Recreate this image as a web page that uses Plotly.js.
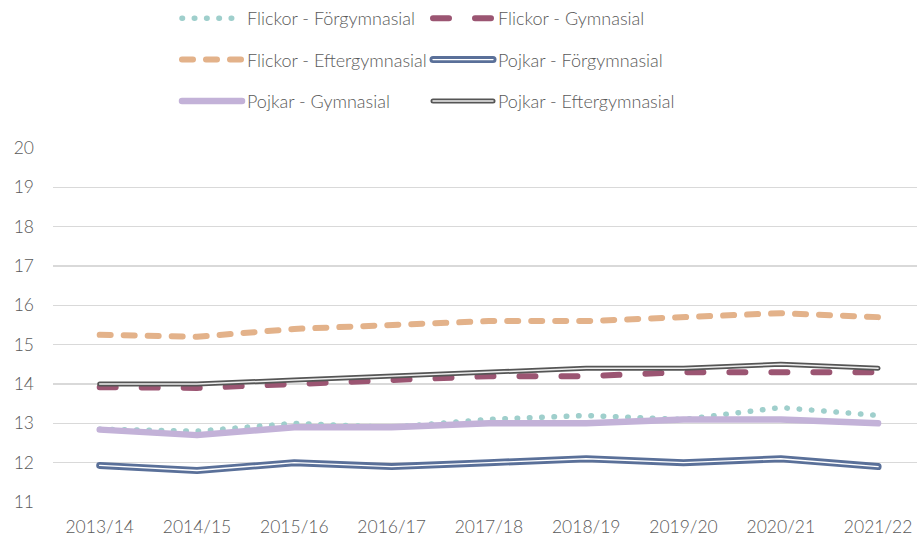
<!DOCTYPE html>
<html>
<head>
<meta charset="utf-8">
<script src="https://cdn.plot.ly/plotly-3.0.1.min.js"></script>
<style>
  html, body { margin: 0; padding: 0; background: #fff; }
  #chart { width: 917px; height: 540px; }
  .js-line { stroke-linecap: round; stroke-linejoin: round; }
</style>
</head>
<body>
<div id="chart"></div>
<script>
const categories = ["2013/14","2014/15","2015/16","2016/17","2017/18","2018/19","2019/20","2020/21","2021/22"];
const flickorForgymnasial   = [12.85, 12.8, 13.0, 12.9, 13.1, 13.2, 13.1, 13.4, 13.2];
const flickorGymnasial      = [13.92, 13.9, 14.0, 14.1, 14.2, 14.2, 14.3, 14.3, 14.3];
const flickorEftergymnasial = [15.25, 15.2, 15.4, 15.5, 15.6, 15.6, 15.7, 15.8, 15.7];
const pojkarForgymnasial    = [11.93, 11.8, 12.0, 11.9, 12.0, 12.1, 12.0, 12.1, 11.9];
const pojkarGymnasial       = [12.84, 12.7, 12.9, 12.9, 13.0, 13.0, 13.1, 13.1, 13.0];
const pojkarEftergymnasial  = [14.0, 14.0, 14.1, 14.2, 14.3, 14.4, 14.4, 14.5, 14.4];
const yTicks = [11, 12, 13, 14, 15, 16, 17, 18, 19, 20];

const FONT = "Lato, 'Open Sans', sans-serif";
const TXT = "#595959";

function tr(name, y, color, width, dash, legend, group, show) {
  return {
    type: "scatter", mode: "lines", name: name, x: categories, y: y,
    line: { color: color, width: width, dash: dash || "solid", shape: "linear" },
    legend: legend, legendgroup: group, showlegend: show !== false,
    hoverinfo: "skip"
  };
}

const data = [
  tr("Flickor - Förgymnasial", flickorForgymnasial, "#9fcfcc", 5.5, "0.5px,11.8px", "legend", "g1"),
  tr("Flickor - Gymnasial", flickorGymnasial, "#9b5572", 6, "16px,26px", "legend2", "g2"),
  tr("Flickor - Eftergymnasial", flickorEftergymnasial, "#e3b28a", 6, "11px,13px", "legend", "g3"),
  tr("Pojkar - Förgymnasial", pojkarForgymnasial, "#5a7099", 7, "solid", "legend2", "g4"),
  tr("Pojkar - Förgymnasial", pojkarForgymnasial, "#ffffff", 1.4, "solid", "legend2", "g4", false),
  tr("Pojkar - Gymnasial", pojkarGymnasial, "#c3b2d8", 6.5, "solid", "legend", "g5"),
  tr("Pojkar - Eftergymnasial", pojkarEftergymnasial, "#555555", 5, "solid", "legend2", "g6"),
  tr("Pojkar - Eftergymnasial", pojkarEftergymnasial, "#eeeeee", 1.5, "solid", "legend2", "g6", false)
];

// plot area: left 53px, width 864px; top 148px, height 354px
const legendBase = {
  orientation: "v", xref: "paper", yref: "paper", yanchor: "top",
  y: 502 / 354, itemwidth: 60, tracegroupgap: 15, traceorder: "grouped",
  bgcolor: "rgba(0,0,0,0)", borderwidth: 0,
  font: { family: FONT, size: 18, color: TXT, weight: 300 },
  itemclick: false, itemdoubleclick: false
};

const layout = {
  width: 917, height: 540,
  margin: { l: 53, r: 0, t: 148, b: 38, pad: 0, autoexpand: false },
  paper_bgcolor: "#ffffff", plot_bgcolor: "#ffffff",
  font: { family: FONT, color: TXT, size: 17 },
  showlegend: true,
  legend: Object.assign({}, legendBase, { x: (177 - 53) / 864, xanchor: "left" }),
  legend2: Object.assign({}, legendBase, { x: (428 - 53) / 864, xanchor: "left" }),
  xaxis: {
    type: "category", range: [-0.48, 8.4],
    showgrid: false, zeroline: false, showline: false, ticks: "",
    tickfont: { family: FONT, size: 17.5, color: TXT, weight: 300 },
    tickangle: 0, ticklabelstandoff: 12, fixedrange: true
  },
  yaxis: {
    range: [11, 20], tickvals: yTicks, ticktext: yTicks.map(String),
    showgrid: true, gridcolor: "#d9d9d9", gridwidth: 1.5,
    zeroline: false, showline: false, ticks: "",
    tickfont: { family: FONT, size: 17.5, color: TXT, weight: 300 },
    ticklabelstandoff: 18, fixedrange: true
  }
};

Plotly.newPlot("chart", data, layout, { displayModeBar: false, staticPlot: true }).then(function (gd) {
  // give the legend swatches of the double ("compound") lines their inner stripe
  const inner = { "Pojkar - Förgymnasial": ["#ffffff", 1.4], "Pojkar - Eftergymnasial": ["#eeeeee", 1.5] };
  gd.querySelectorAll("g.traces").forEach(function (g) {
    const t = g.querySelector("text");
    const p = g.querySelector("path.js-line") || g.querySelector(".legendlines path");
    if (!t || !p) return;
    const spec = inner[t.textContent.trim()];
    if (!spec) return;
    const c = p.cloneNode(true);
    c.style.stroke = spec[0];
    c.style.strokeWidth = spec[1] + "px";
    p.parentNode.appendChild(c);
  });
});
</script>
</body>
</html>
